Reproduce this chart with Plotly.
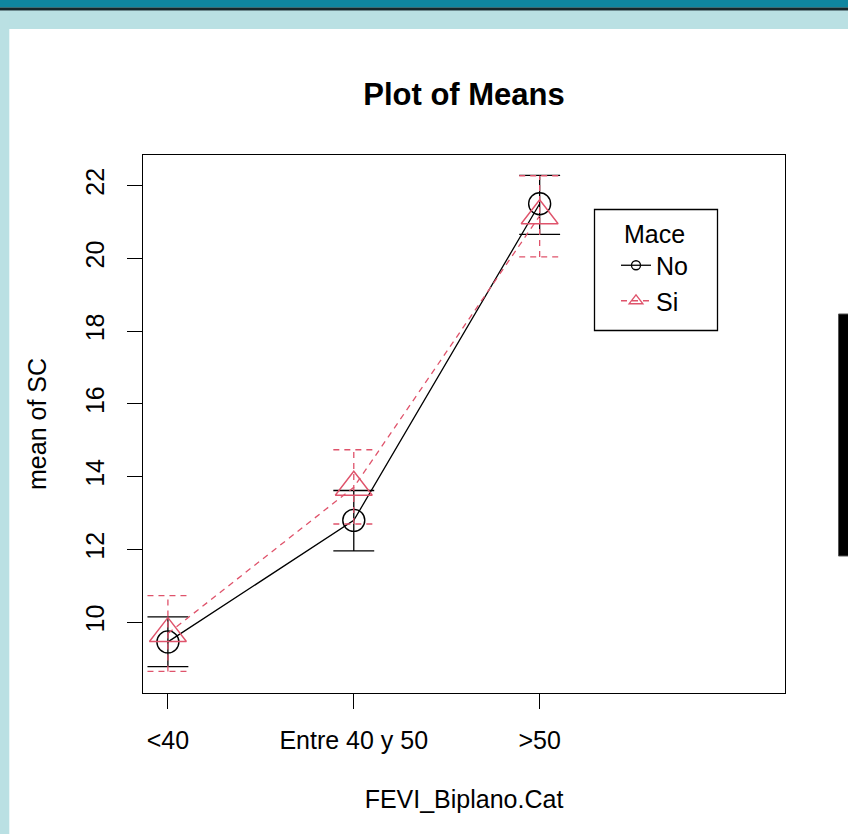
import plotly.graph_objects as go

# ---------------- data ----------------
categories = ["<40", "Entre 40 y 50", ">50"]
groups = ["No", "Si"]
no_mean = [9.46, 12.80, 21.50]
no_hi = [10.15, 13.62, 22.28]
no_lo = [8.78, 11.96, 20.66]
si_mean = [9.69, 13.71, 21.17]
si_hi = [10.73, 14.74, 22.27]
si_lo = [8.65, 12.70, 20.04]
y_ticks = [10, 12, 14, 16, 18, 20, 22]

# ---------------- geometry / style ----------------
W, H = 848, 834
ML, MR, MT, MB = 143, 63, 155, 141
PW, PH = W - ML - MR, H - MT - MB
FONT = "Liberation Sans, Arial, sans-serif"
BLACK = "#000000"
RED = "#DF536B"
CAP = 0.11


def px_x(x):
    return (x - ML) / PW


def px_y(y):
    return (H - MB - y) / PH


xs = list(range(1, len(categories) + 1))


def err_path(means, lo, hi):
    ex, ey = [], []
    for x, l, h in zip(xs, lo, hi):
        ex += [x, x, None, x - CAP, x + CAP, None, x - CAP, x + CAP, None]
        ey += [l, h, None, h, h, None, l, l, None]
    return ex, ey


fig = go.Figure()

series = [
    ("No", no_mean, no_lo, no_hi, BLACK, "solid", "circle-open", 22, 9),
    ("Si", si_mean, si_lo, si_hi, RED, "6px,5px", "triangle-up-open", 32, 12),
]

for name, m, lo, hi, col, dash, sym, msize, lsize in series:
    ex, ey = err_path(m, lo, hi)
    fig.add_trace(go.Scatter(x=ex, y=ey, mode="lines", showlegend=False,
                             line=dict(color=col, width=1.3, dash=dash),
                             hoverinfo="skip"))
    fig.add_trace(go.Scatter(x=xs, y=m, mode="lines+markers", showlegend=False,
                             name=name,
                             line=dict(color=col, width=1.3, dash=dash),
                             marker=dict(symbol=sym, size=msize, color=col,
                                         line=dict(color=col, width=1.4))))
    # legend proxy
    fig.add_trace(go.Scatter(x=[None], y=[None], mode="lines+markers", name=name,
                             line=dict(color=col, width=1.3, dash=dash),
                             marker=dict(symbol=sym, size=lsize, color=col,
                                         line=dict(color=col, width=1.3))))

# ---------------- page decorations ----------------
shapes = [
    # light teal page background frame
    dict(type="rect", xref="paper", yref="paper", x0=px_x(0), x1=px_x(W),
         y0=px_y(0), y1=px_y(29), fillcolor="#BAE0E3", line_width=0, layer="below"),
    dict(type="rect", xref="paper", yref="paper", x0=px_x(0), x1=px_x(9.3),
         y0=px_y(0), y1=px_y(H), fillcolor="#BAE0E3", line_width=0, layer="below"),
    # dark teal top bar
    dict(type="rect", xref="paper", yref="paper", x0=px_x(0), x1=px_x(W),
         y0=px_y(0), y1=px_y(7.5), fillcolor="#0F86A0", line_width=0, layer="below"),
    dict(type="rect", xref="paper", yref="paper", x0=px_x(0), x1=px_x(W),
         y0=px_y(7.5), y1=px_y(10), fillcolor="#15262B", line_width=0, layer="below"),
    dict(type="rect", xref="paper", yref="paper", x0=px_x(0), x1=px_x(W),
         y0=px_y(10), y1=px_y(11), fillcolor="#6E8A8F", line_width=0, layer="below"),
    # black rectangle on the right
    dict(type="rect", xref="paper", yref="paper", x0=px_x(838.5), x1=px_x(W + 2),
         y0=px_y(314), y1=px_y(556), fillcolor="#000000",
         line=dict(color="#555555", width=1), layer="above"),
    # legend box
    dict(type="rect", xref="paper", yref="paper", x0=px_x(594.5), x1=px_x(717.5),
         y0=px_y(209.5), y1=px_y(330.5), fillcolor="rgba(0,0,0,0)",
         line=dict(color=BLACK, width=1.3), layer="above"),
]

fig.update_layout(
    width=W, height=H,
    margin=dict(l=ML, r=MR, t=MT, b=MB, pad=0),
    paper_bgcolor="white", plot_bgcolor="white",
    font=dict(family=FONT, size=25, color=BLACK),
    title=dict(text="Plot of Means", x=0.5, xref="paper", xanchor="center",
               y=1 - 94 / H, yref="container", yanchor="middle",
               font=dict(family=FONT, size=31, color=BLACK, weight=700)),
    showlegend=True,
    legend=dict(
        x=px_x(616), y=px_y(210), xanchor="left", yanchor="top",
        xref="paper", yref="paper",
        bgcolor="rgba(0,0,0,0)", borderwidth=0,
        font=dict(family=FONT, size=25, color=BLACK),
        title=dict(text="Mace", side="top center",
                   font=dict(family=FONT, size=25, color=BLACK)),
        tracegroupgap=0, itemclick=False, itemdoubleclick=False,
    ),
    shapes=shapes,
)

fig.update_xaxes(
    range=[0.866, 4.32], tickmode="array", tickvals=xs, ticktext=categories,
    ticks="outside", ticklen=15, tickwidth=1.3, tickcolor=BLACK,
    showline=True, linecolor=BLACK, linewidth=1.3, mirror=True,
    showgrid=False, zeroline=False, ticklabelstandoff=10,
    tickfont=dict(family=FONT, size=25, color=BLACK),
    title=dict(text="FEVI_Biplano.Cat", standoff=37,
               font=dict(family=FONT, size=25, color=BLACK)),
)
fig.update_yaxes(
    range=[8.056, 22.84], tickmode="array", tickvals=y_ticks,
    ticks="outside", ticklen=15, tickwidth=1.3, tickcolor=BLACK,
    showline=True, linecolor=BLACK, linewidth=1.3, mirror=True,
    showgrid=False, zeroline=False, tickangle=-90, ticklabelstandoff=13,
    tickfont=dict(family=FONT, size=25, color=BLACK),
    title=dict(text="mean of SC", standoff=27,
               font=dict(family=FONT, size=25, color=BLACK)),
)

fig.write_html("out.html")
